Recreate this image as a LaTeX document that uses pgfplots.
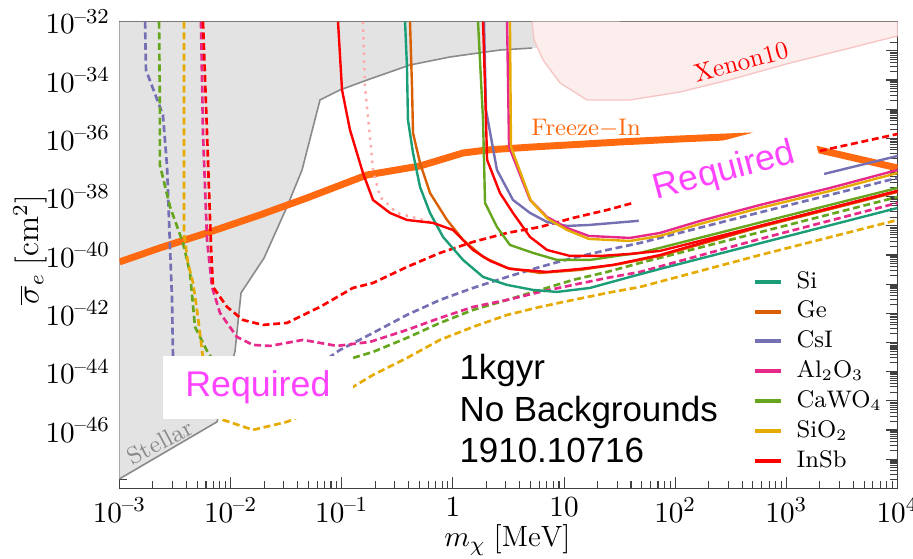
\documentclass[border=0pt]{standalone}
\usepackage{pgfplots}
\pgfplotsset{compat=1.18}
\usepackage{fontspec}
\newfontfamily\arialf{Liberation Sans}
\newcommand{\nm}{\mbox{\fontsize{8}{9}\selectfont --}}
\definecolor{cSi}{HTML}{1B9E77}
\definecolor{cGe}{HTML}{D95F02}
\definecolor{cCsI}{HTML}{7570B3}
\definecolor{cAl}{HTML}{E7298A}
\definecolor{cCa}{HTML}{66A61E}
\definecolor{cSiO}{HTML}{E6AB02}
\definecolor{cIn}{HTML}{FF0000}
\definecolor{cFI}{HTML}{FF6A10}
\definecolor{xfill}{HTML}{FDEEEE}
\definecolor{xline}{HTML}{F7C4C4}
\definecolor{sfill}{HTML}{E3E3E3}
\definecolor{sline}{HTML}{8A8A8A}
\definecolor{req}{HTML}{FF44FF}
\begin{document}
\begin{tikzpicture}
\useasboundingbox (-44.81pt,-26.14pt) rectangle (297.56pt,183.11pt);
\begin{axis}[
  at={(0pt,0pt)}, anchor=south west,
  scale only axis, width=291.75pt, height=174.98pt,
  xmode=log, ymode=log,
  xmin=1e-3, xmax=1e4, ymin=1e-48, ymax=1e-32,
  xtick={1e-3,1e-2,1e-1,1,10,100,1000,10000},
  xticklabels={$10^{\nm3}$,$10^{\nm2}$,$10^{\nm1}$,$1$,$10$,$10^{2}$,$10^{3}$,$10^{4}$},
  ytick={1e-48,1e-47,1e-46,1e-45,1e-44,1e-43,1e-42,1e-41,1e-40,1e-39,1e-38,1e-37,1e-36,1e-35,1e-34,1e-33,1e-32},
  yticklabels={{},{},$10^{\nm46}$,{},$10^{\nm44}$,{},$10^{\nm42}$,{},$10^{\nm40}$,{},$10^{\nm38}$,{},$10^{\nm36}$,{},$10^{\nm34}$,{},$10^{\nm32}$},
  ticklabel style={font=\fontsize{11}{13}\selectfont},
  axis line style={draw=black!75},
  every tick/.style={black!75},
  xlabel={$m_\chi\;[\mathrm{MeV}]$},
  ylabel={$\overline{\sigma}_e\;[\mathrm{cm}^2]$},
  xlabel style={at={(axis description cs:0.4987,-0.111)}, anchor=center, font=\fontsize{11}{13}\selectfont},
  ylabel style={at={(axis description cs:-0.115,0.511)}, anchor=center, font=\fontsize{12}{14}\selectfont},
  clip mode=individual,
  legend style={draw=none, fill=none, at={(0.813,0.476)}, anchor=north west, font=\small,
    inner sep=0pt, row sep=0pt, column sep=4pt,
    nodes={inner sep=1pt, text height=7pt, text depth=2.2pt}},
  legend cell align=left,
  legend image code/.code={\draw[line width=1.5pt] (0pt,0pt) -- (10pt,0pt);},
]
\addlegendimage{cSi}\addlegendentry{Si}
\addlegendimage{cGe}\addlegendentry{Ge}
\addlegendimage{cCsI}\addlegendentry{CsI}
\addlegendimage{cAl}\addlegendentry{Al$_2$O$_3$}
\addlegendimage{cCa}\addlegendentry{CaWO$_4$}
\addlegendimage{cSiO}\addlegendentry{SiO$_2$}
\addlegendimage{cIn}\addlegendentry{InSb}

% Stellar region
\addplot[fill=sfill, draw=none, forget plot] coordinates {
(1e-3,1e-32) (1e-3,2.11e-48) (7.54e-3,1.90e-46) (1.095e-2,5.0e-44) (1.24e-2,5.01e-42) (2.00e-2,7.94e-41) (3.21e-2,4.45e-39) (4.39e-2,8.24e-38) (6.37e-2,2.07e-35) (9.64e-2,4.56e-35) (0.1687,1.0e-34) (0.411,3.28e-34) (0.941,6.17e-34) (2.65,1.07e-33) (5.15,1.25e-33) (31.9,1.59e-33) (31.9,1e-32)};
\addplot[sline, line width=0.6pt, forget plot] coordinates {
(1e-3,2.11e-48) (7.54e-3,1.90e-46) (1.095e-2,5.0e-44) (1.24e-2,5.01e-42) (2.00e-2,7.94e-41) (3.21e-2,4.45e-39) (4.39e-2,8.24e-38) (6.37e-2,2.07e-35) (9.64e-2,4.56e-35) (0.1687,1.0e-34) (0.411,3.28e-34) (0.941,6.17e-34) (2.65,1.07e-33) (5.15,1.25e-33)};
% Xenon10 region
\addplot[fill=xfill, draw=xline, line width=0.5pt, forget plot] coordinates {
(5.15,1e-32) (5.37,2.36e-33) (6.47,4.86e-34) (9.20,7.92e-35) (16.1,2.07e-35) (39.2,2.07e-35) (110.5,3.89e-35) (331,1.09e-34) (1080,3.84e-34) (3741,1.25e-33) (1e4,3.24e-33) (1e4,1e-32)};

% Freeze-In
\addplot[cFI, line width=2.6pt, forget plot] coordinates {
(1e-3,5.78e-41) (2.31e-3,1.75e-40) (6.52e-3,6.18e-40) (1.84e-2,2.37e-39) (4.86e-2,9.04e-39) (0.1687,5.56e-38) (0.506,1.13e-37) (1.233,3.15e-37) (2.03,4.0e-37) (5.26,5.07e-37) (31.9,7.52e-37) (110.5,9.53e-37) (471,1.21e-36) (877,8.81e-37) (1811,4.33e-37) (1e4,9.66e-38)};

% dashed curves
\addplot[cCsI, line width=1pt, dash pattern=on 2.6pt off 1.4pt, forget plot] coordinates {
(1.70e-3,1e-32) (1.73e-3,2.21e-34) (2.46e-3,6.34e-36) (2.68e-3,1.05e-37) (2.85e-3,1.75e-40) (2.97e-3,2.88e-42) (3.03e-3,3.21e-44) (3.09e-3,7.26e-46) (9.87e-3,4.89e-46) (4.21e-2,5.22e-45) (7.83e-2,3.21e-44) (9.64e-2,5.57e-44) (0.191,2.13e-43) (0.386,8.83e-43) (0.765,2.88e-42) (1.516,7.43e-42) (3.07,1.77e-41) (6.08,3.90e-41) (12.04,7.94e-41) (24.4,1.49e-40) (48.3,2.59e-40) (580,2.9e-39) (1e4,4.39e-38)};
\addplot[cCa, line width=1pt, dash pattern=on 2.6pt off 1.4pt, forget plot] coordinates {
(2.27e-3,1e-32) (2.31e-3,9.4e-36) (2.31e-3,1.22e-37) (2.85e-3,4.45e-39) (3.73e-3,2.59e-40) (4.31e-3,2.43e-41) (4.78e-3,3.42e-43) (6.26e-3,4.40e-44) (1.215e-2,1.60e-45) (4.21e-2,3.52e-45) (0.126,2.96e-44) (0.191,4.75e-44) (0.386,1.44e-43) (0.765,4.69e-43) (1.516,1.31e-42) (3.07,2.88e-42) (6.08,6.35e-42) (12.04,1.40e-41) (24.4,2.63e-41) (48.3,5.35e-41) (580,6.08e-40) (1e4,9.79e-39)};
\addplot[cSiO, line width=1pt, dash pattern=on 2.6pt off 1.4pt, forget plot] coordinates {
(3.80e-3,1e-32) (3.80e-3,5.71e-40) (4.13e-3,5.35e-41) (4.59e-3,1.10e-41) (4.98e-3,1.31e-42) (5.53e-3,5.57e-44) (6.13e-3,1.08e-45) (8.54e-3,2.22e-46) (1.59e-2,1.01e-46) (3.21e-2,1.90e-46) (5.18e-2,4.17e-46) (0.126,3.0e-45) (0.191,7.74e-45) (0.386,2.96e-44) (0.765,1.23e-43) (1.516,3.42e-43) (3.07,8.83e-43) (6.08,1.66e-42) (12.04,2.88e-42) (24.4,5.01e-42) (48.3,8.05e-42) (580,1.0e-40) (1e4,1.59e-39)};
\addplot[cAl, line width=1pt, dash pattern=on 2.6pt off 1.4pt, forget plot] coordinates {
(5.41e-3,1e-32) (5.64e-3,1.53e-36) (6.13e-3,3.29e-40) (6.80e-3,8.05e-42) (8.02e-3,1.03e-42) (1.14e-2,1.55e-43) (1.59e-2,8.26e-44) (2.26e-2,7.64e-44) (4.48e-2,1.23e-43) (9.06e-2,7.64e-44) (0.1795,1.05e-43) (0.386,2.70e-43) (0.765,6.97e-43) (1.516,1.66e-42) (3.07,2.88e-42) (6.08,5.42e-42) (12.04,9.42e-42) (24.4,1.64e-41) (48.3,2.63e-41) (580,3.56e-40) (1e4,6.10e-39)};
\addplot[cIn, line width=1pt, dash pattern=on 2.6pt off 1.4pt, forget plot] coordinates {
(5.64e-3,1e-32) (6.13e-3,1.53e-36) (6.66e-3,1.89e-40) (6.94e-3,8.05e-42) (9.28e-3,1.66e-42) (1.29e-2,5.94e-43) (1.95e-2,4.01e-43) (3.21e-2,4.69e-43) (6.37e-2,1.66e-42) (0.126,7.43e-42) (0.191,1.10e-41) (0.386,3.90e-41) (0.765,1.18e-40) (1.516,2.81e-40) (3.07,5.71e-40) (6.08,9.16e-40) (12.04,1.87e-39) (24.4,3.51e-39) (41.7,6.10e-39) (253,4.39e-38) (1811,3.41e-37) (1e4,1.41e-36)};

% faint dotted
\addplot[cIn!35, line width=0.9pt, dotted, forget plot] coordinates {
(0.155,1e-32) (0.1618,5.78e-35) (0.1795,1.12e-36) (0.191,8.24e-38) (0.2208,9.79e-39) (0.314,2.77e-39) (0.622,1.36e-39)};

% solid curves
\addplot[cSi, line width=0.9pt, forget plot] coordinates {
(0.371,1e-32) (0.386,2.80e-34) (0.394,4.27e-36) (0.4375,3.15e-37) (0.506,2.15e-38) (0.622,2.77e-39) (0.815,4.16e-40) (1.233,6.78e-41) (1.866,1.77e-41) (3.07,9.42e-42) (5.26,6.35e-42) (8.64,5.42e-42) (17.1,7.43e-42) (39.2,1.77e-41) (73.0,3.33e-41) (580,2.53e-40) (1e4,4.10e-39)};
\addplot[cGe, line width=0.9pt, forget plot] coordinates {
(0.411,1e-32) (0.4285,5.78e-35) (0.4375,1.53e-36) (0.506,1.43e-37) (0.622,1.34e-38) (0.885,1.59e-39) (1.233,3.29e-40) (1.866,8.59e-41) (3.07,3.60e-41) (6.08,2.43e-41) (13.9,3.08e-41) (31.9,4.94e-41) (73.0,9.29e-41) (580,9.16e-40) (1e4,1.45e-38)};
\addplot[cCsI, line width=0.9pt, forget plot] coordinates {
(1.905,1e-32) (1.985,9.4e-36) (2.49,8.24e-38) (3.47,7.73e-39) (4.94,2.77e-39) (7.02,1.36e-39) (10.63,9.93e-40) (16.7,1.07e-39) (45.3,1.47e-39) (167,5.21e-39) (580,1.70e-38) (2010,5.56e-38) (1e4,2.49e-37)};
\addplot[cCa, line width=0.9pt, forget plot] coordinates {
(1.682,1e-32) (1.866,4.27e-36) (1.945,6.10e-39) (2.49,9.16e-40) (3.26,2.21e-40) (5.26,1.18e-40) (8.64,6.78e-41) (17.1,6.78e-41) (33.9,1.0e-40) (48.3,1.18e-40) (580,1.30e-39) (1e4,1.99e-38)};
\addplot[cAl, line width=0.9pt, forget plot] coordinates {
(3.07,1e-32) (3.20,5.07e-37) (4.94,7.73e-39) (7.02,2.02e-39) (10.63,8.47e-40) (16.7,4.51e-40) (39.2,3.85e-40) (73.0,5.71e-40) (167,1.47e-39) (580,5.21e-39) (2472,1.99e-38) (1e4,8.24e-38)};
\addplot[cSiO, line width=0.9pt, forget plot] coordinates {
(3.26,1e-32) (3.33,5.07e-37) (5.04,7.14e-39) (7.17,1.72e-39) (10.63,7.23e-40) (16.7,3.56e-40) (39.2,3.03e-40) (73.0,4.51e-40) (167,1.16e-39) (580,4.10e-39) (2472,1.57e-38) (1e4,6.50e-38)};
\addplot[cIn, line width=0.9pt, forget plot] coordinates {
(9.25e-2,1e-32) (0.1005,4.56e-35) (0.1186,1.94e-36) (0.155,6.50e-38) (0.191,7.73e-39) (0.2716,2.77e-39) (0.386,1.59e-39) (0.662,1.26e-39) (1.0,7.23e-40) (1.516,1.49e-40) (2.16,6.27e-41) (3.26,3.33e-41) (7.02,2.63e-41) (13.9,3.33e-41) (27.6,4.57e-41) (73.0,1.0e-40) (580,9.93e-40) (1e4,1.57e-38)};
\addplot[cIn, line width=0.9pt, forget plot] coordinates {
(1.866,1e-32) (1.945,5.78e-35) (2.03,1.82e-37) (2.65,1.34e-38) (3.47,2.77e-39) (4.94,4.16e-40) (7.02,1.49e-40) (11.3,9.29e-41) (21.1,9.29e-41) (39.2,1.09e-40) (73.0,1.38e-40) (580,9.93e-40) (1e4,1.57e-38)};

% annotation boxes and texts
\fill[white] (axis cs:2.46e-3,3.47e-44) rectangle (axis cs:0.126,2.40e-46);
\node[text=req, font=\arialf\fontsize{13.4}{15}\selectfont] at (axis cs:1.76e-2,2.88e-45) {Required};
\node[fill=white, rotate=15, minimum width=71.6pt, minimum height=22.9pt, inner sep=0pt, text=req, font=\arialf\fontsize{13.4}{15}\selectfont] at (axis cs:278,7.05e-38) {Required};
\node[anchor=base west, align=left, inner sep=0pt, font=\arialf\fontsize{13.1}{15.6}\selectfont] at (axis cs:1.134,7.45e-48) {1kgyr\\No Backgrounds\\1910.10716};
\node[text=cIn, rotate=15, inner sep=0pt, font=\fontsize{9.5}{11}\selectfont] at (axis cs:391,4.15e-34) {Xenon10};
\node[text=cFI, font=\small] at (axis cs:15.8,2.27e-36) {Freeze$-$In};
\node[text=sline, rotate=28, inner sep=0pt, font=\small] at (axis cs:2.31e-3,3.9e-47) {Stellar};
\end{axis}
\end{tikzpicture}
\end{document}
